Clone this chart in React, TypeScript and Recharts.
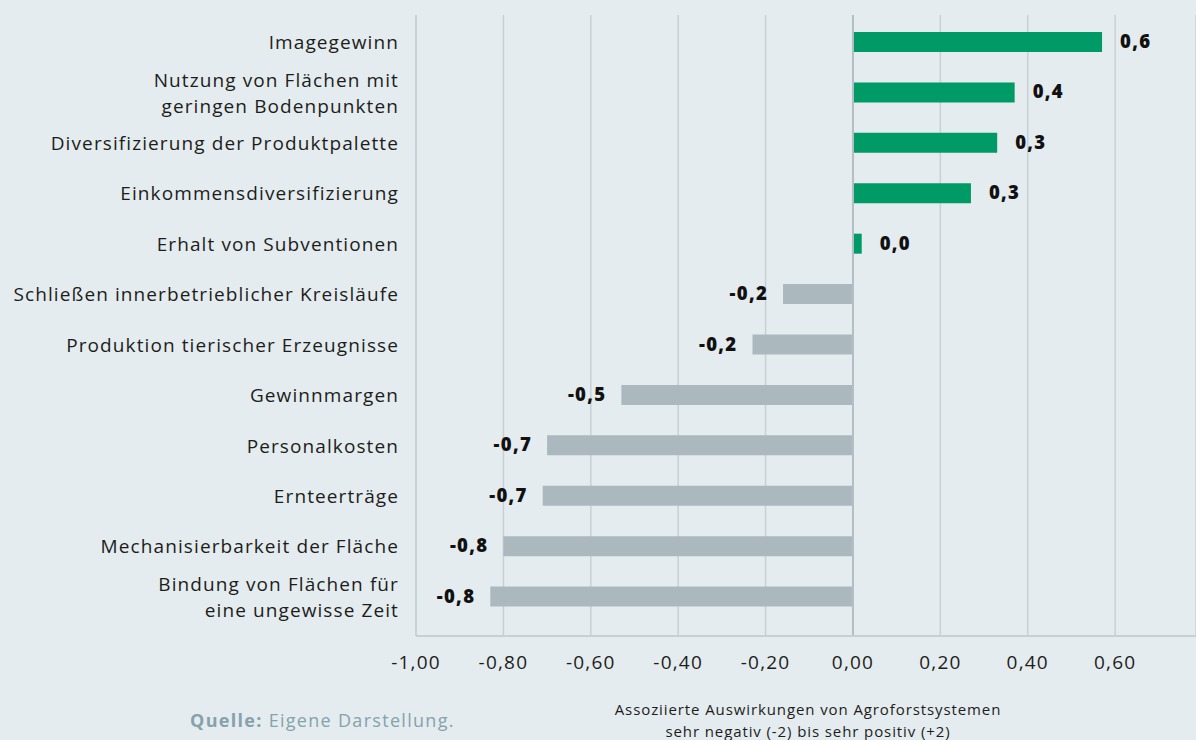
import React from 'react';
import { BarChart, Bar, XAxis, YAxis, CartesianGrid, Cell, LabelList, ReferenceLine } from 'recharts';

const categories = [
  'Imagegewinn',
  'Nutzung von Flächen mit\ngeringen Bodenpunkten',
  'Diversifizierung der Produktpalette',
  'Einkommensdiversifizierung',
  'Erhalt von Subventionen',
  'Schließen innerbetrieblicher Kreisläufe',
  'Produktion tierischer Erzeugnisse',
  'Gewinnmargen',
  'Personalkosten',
  'Ernteerträge',
  'Mechanisierbarkeit der Fläche',
  'Bindung von Flächen für\neine ungewisse Zeit',
];

const values = [0.57, 0.37, 0.33, 0.27, 0.02, -0.16, -0.23, -0.53, -0.70, -0.71, -0.80, -0.83];

const xTicks = [-1, -0.8, -0.6, -0.4, -0.2, 0, 0.2, 0.4, 0.6];

const GREEN = '#009a67';
const GREY = '#abb9bf';
const BG = '#e4ecef';
const GRID = '#c7d0d4';
const FONT = '"Open Sans", "Noto Sans", sans-serif';

const data = categories.map((name, i) => ({ name, value: values[i] }));

const fmt = (v: number, digits: number) => v.toFixed(digits).replace('.', ',');

// category labels, split on \n for the two-line ones
const CategoryTick = (props: any) => {
  const { x, y, payload } = props;
  const lines = String(payload.value).split('\n');
  const lh = 26;
  const start = -((lines.length - 1) * lh) / 2;
  return (
    <text x={x} y={y} textAnchor="end" fill="#1d1d1b" fontSize={19} letterSpacing={1.1} fontFamily={FONT}>
      {lines.map((l: string, i: number) => (
        <tspan key={i} x={x} dy={i === 0 ? start + 7 : lh}>{l}</tspan>
      ))}
    </text>
  );
};

// value next to the bar end: right side for positives, left side for negatives
const ValueLabel = (props: any) => {
  const { x, y, width, height, value } = props;
  const neg = value < 0;
  const endX = x + width;
  const lx = neg ? Math.min(x, endX) - 15 : Math.max(x, endX) + 18;
  return (
    <text
      x={lx}
      y={y + height / 2 + 6}
      textAnchor={neg ? 'end' : 'start'}
      fontSize={18.5}
      fontWeight={800}
      letterSpacing={1.3}
      fill="#111"
      fontFamily={FONT}
    >
      {fmt(value, 1)}
    </text>
  );
};

export default function App() {
  return (
    <div style={{ position: 'absolute', left: 0, top: 0, width: 1196, height: 740, background: BG, overflow: 'hidden', fontFamily: FONT }}>
      <BarChart
        width={1196}
        height={740}
        data={data}
        layout="vertical"
        margin={{ top: 15, right: 0, bottom: 0, left: 0 }}
      >
        <CartesianGrid horizontal={false} stroke={GRID} strokeWidth={1.5} />
        <XAxis
          type="number"
          domain={[-1, 0.785]}
          ticks={xTicks}
          allowDataOverflow
          tickFormatter={(v: number) => fmt(v, 2)}
          tick={{ fill: '#1d1d1b', fontSize: 19, fontFamily: FONT, letterSpacing: 1.2 }}
          tickLine={false}
          tickSize={0}
          tickMargin={20}
          axisLine={{ stroke: GRID, strokeWidth: 2 }}
          height={104}
        />
        <YAxis
          type="category"
          dataKey="name"
          width={416}
          tick={<CategoryTick />}
          tickLine={false}
          tickSize={0}
          tickMargin={17}
          axisLine={{ stroke: GRID, strokeWidth: 1.5 }}
          padding={{ top: 2, bottom: 14 }}
          interval={0}
        />
        <ReferenceLine x={0} stroke="#b3bfc4" strokeWidth={2} />
        <Bar dataKey="value" barSize={20} isAnimationActive={false}>
          {data.map((d, i) => (
            <Cell key={i} fill={d.value >= 0 ? GREEN : GREY} />
          ))}
          <LabelList dataKey="value" content={<ValueLabel />} />
        </Bar>
      </BarChart>
      <div style={{ position: 'absolute', left: 508, top: 698, width: 600, textAlign: 'center', fontSize: 15, lineHeight: '22px', letterSpacing: 0.9, color: '#1d1d1b' }}>
        Assoziierte Auswirkungen von Agroforstsystemen
        <br />
        sehr negativ (-2) bis sehr positiv (+2)
      </div>
      <div style={{ position: 'absolute', left: 190, top: 708, fontSize: 18, letterSpacing: 1.3, color: '#86a2ab' }}>
        <span style={{ fontWeight: 700 }}>Quelle:</span> Eigene Darstellung.
      </div>
    </div>
  );
}
